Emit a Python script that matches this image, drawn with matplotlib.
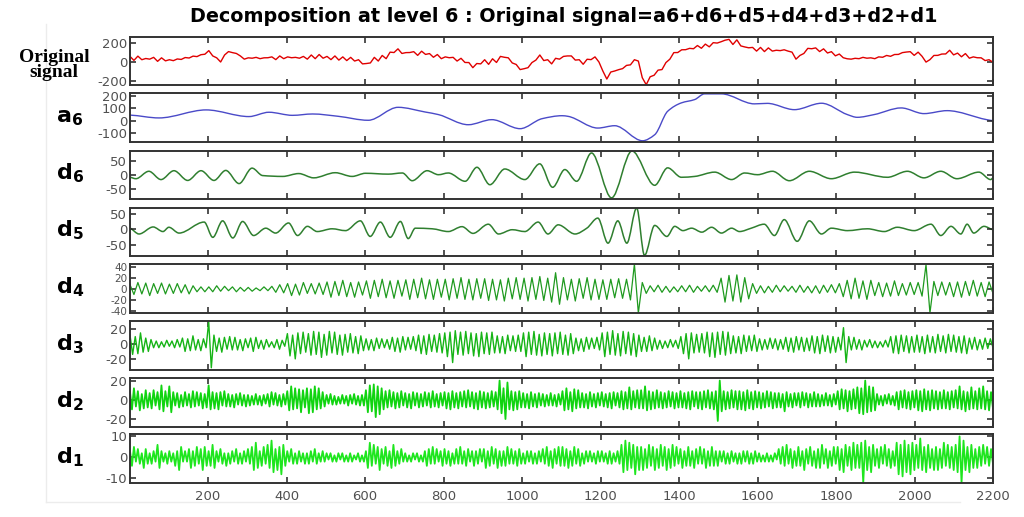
import numpy as np
import matplotlib
matplotlib.use("Agg")
import matplotlib.pyplot as plt
from matplotlib.path import Path
from matplotlib.patches import PathPatch
from matplotlib.lines import Line2D

plt.rcParams['axes.unicode_minus'] = False

# ---------------- data ----------------
title = "Decomposition at level 6 : Original signal=a6+d6+d5+d4+d3+d2+d1"
xticks = [200, 400, 600, 800, 1000, 1200, 1400, 1600, 1800, 2000, 2200]
n_samples = 2200

original = [
    57, 15, 60, 22, 35, 28, 47, 5, 42, 10,
    22, 12, 30, 25, 45, 40, 60, 55, 75, 80,
    118, 62, 42, -2, 72, 108, 97, 88, 62, 28,
    42, 38, 47, 33, 42, 43, 52, 23, 62, 33,
    52, 43, 47, 38, 57, 28, 72, 33, 77, 38,
    57, 23, 62, 18, 52, 13, 47, 8, 22, -22,
    -18, -12, 47, 8, 67, 33, 102, 98, 137, 88,
    97, 98, 107, 68, 112, 78, 87, 48, 77, 33,
    52, 43, 47, 8, 37, -7, -8, -62, -18, -22,
    22, -27, 32, -7, 57, 48, 42, -12, -28, -82,
    -73, -62, -8, 18, 72, 13, 22, -22, 37, 28,
    57, 62, 62, 18, 22, -26, 27, 23, 52, -2,
    -98, -182, -108, -97, -83, -72, -38, -32, 22, 8,
    -168, -242, -158, -142, -88, -82, -8, 28, 97, 98,
    127, 128, 142, 138, 172, 143, 187, 158, 202, 198,
    212, 228, 237, 183, 232, 168, 157, 148, 152, 113,
    152, 108, 147, 113, 122, 118, 127, 113, 102, 28,
    67, 88, 142, 138, 147, 108, 137, 93, 107, 63,
    82, 43, 32, 28, 37, 33, 47, 38, 42, 33,
    52, 48, 67, 58, 77, 78, 97, 103, 107, 68,
    102, 58, -3, 23, 67, 68, 82, 83, 122, 73,
    92, 53, 87, 38, 52, 43, 42, 13, 22, -5,
]

a6_x = [1, 75, 195, 304, 355, 415, 466, 532, 608, 684, 753, 787, 863, 923, 995,
        1051, 1102, 1117, 1193, 1236, 1307, 1338, 1371, 1406, 1440, 1465, 1508,
        1592, 1625, 1694, 1763, 1829, 1854, 1897, 1966, 2024, 2083, 2184, 2200]
a6_y = [45, 22, 87, 33, 68, 43, 54, 35, 3, 108, 70, 49, -33, 8, -65,
        16, 40, 35, -60, -41, -163, -114, 76, 144, 171, 217, 217,
        136, 140, 89, 141, 49, 27, 49, 103, 57, 81, 8, 0]

d6_x = [1, 16, 49, 80, 113, 148, 182, 215, 245,
        279, 312, 339, 390, 431, 469, 524, 567, 601, 659,
        695, 720, 758, 787, 812, 855, 885, 918, 956, 1007,
        1045, 1078, 1109, 1139, 1177, 1228, 1280, 1338, 1371, 1406,
        1440, 1491, 1534, 1567, 1600, 1638, 1681, 1732, 1788, 1847,
        1931, 1982, 2024, 2067, 2108, 2164, 2194, 2200]
d6_y = [-8, -13, 13, -16, 15, -19, 15, -19, 16,
        -30, 24, -2, -5, 5, -10, 8, -5, 6, 3,
        7, -20, 15, 1, 7, -22, 27, -34, 21, -16,
        39, -43, 19, -22, 77, -80, 84, -36, 25, -8,
        -5, 10, -16, 7, 1, 13, -20, 13, -13, 10,
        -8, 13, -10, 13, -13, 10, -16, -10]

d5_x = [1, 24, 60, 85, 100, 126, 190, 212, 237, 263,
        288, 316, 347, 372, 405, 428, 453, 478, 516, 550,
        588, 613, 639, 664, 690, 710, 728, 771, 812, 847,
        875, 914, 940, 975, 1007, 1041, 1066, 1092, 1135, 1165,
        1193, 1219, 1244, 1267, 1292, 1312, 1338, 1369, 1389, 1410,
        1432, 1458, 1483, 1508, 1534, 1554, 1584, 1617, 1643, 1668,
        1701, 1732, 1763, 1788, 1829, 1880, 1923, 1956, 1999, 2042,
        2067, 2093, 2118, 2134, 2151, 2177, 2200]
d5_y = [4, -15, 8, -7, 7, -12, 24, -26, 28, -28,
        26, -20, 4, -12, 21, -20, 10, -7, 2, -4,
        28, -23, 24, -26, 26, -30, 4, 2, -7, 9,
        -13, 17, -15, -1, -7, 24, -15, 15, -15, 4,
        37, -45, 28, -45, 70, -85, 13, -23, 10, -4,
        4, -9, 7, -12, 4, -7, 4, 17, -20, 32,
        -39, 28, -15, 4, -4, 2, -7, 7, -4, 17,
        -20, 10, -15, 17, -12, 10, -1]

d4 = [
    8, -10, 12, -9, 11, -12, 10, -8, 11, -9,
    9, -8, 10, -7, 8, -9, 6, -5, 4, -5,
    4, -5, 6, -4, 5, -3, 4, -5, 3, -4,
    3, -4, 2, -3, 4, -3, 5, -6, 8, -7,
    10, -12, 9, -11, 12, -8, 10, -9, 11, -10,
    13, -15, 14, -12, 16, -14, 12, -15, 13, -11,
    15, -17, 16, -14, 18, -16, 15, -17, 16, -13,
    17, -19, 18, -16, 20, -18, 17, -19, 18, -15,
    18, -20, 19, -17, 21, -19, 18, -20, 19, -17,
    19, -21, 18, -20, 17, -22, 20, -18, 21, -19,
    20, -22, 21, -19, 23, -21, 20, -24, 30, -28,
    21, -20, 18, -22, 19, -17, 21, -20, 18, -19,
    17, -19, 18, -16, 19, -17, 18, -20, 46, -44,
    12, -8, 6, -5, 7, -6, 5, -6, 4, -5,
    6, -5, 7, -6, 5, -4, 6, -5, 7, -6,
    20, -24, 25, -22, 26, -24, 21, -18, 10, -8,
    6, -7, 5, -6, 7, -5, 6, -4, 5, -6,
    7, -6, 5, -7, 6, -8, 7, -6, 8, -7,
    10, -14, 16, -18, 20, -17, 15, -19, 16, -12,
    12, -14, 11, -13, 15, -12, 10, -11, 12, -10,
    12, -13, 45, -44, 14, -12, 13, -11, 12, -14,
    13, -15, 14, -12, 16, -13, 12, -14, 13, -8,
]

d3 = [
    12, -14, 10, -13, 15, -11, 8, -10, 6, -5,
    4, -5, 3, -4, 5, -3, 4, -5, 6, -4,
    8, -10, 7, -9, 11, -8, 6, -9, 7, -5,
    30, -32, 12, -10, 8, -11, 9, -7, 10, -8,
    9, -8, 6, -9, 7, -5, 8, -10, 9, -6,
    5, -7, 6, -4, 3, -5, 6, -7, 5, -3,
    14, -16, 12, -20, 15, -13, 16, -11, 14, -15,
    17, -14, 16, -18, 13, -15, 17, -12, 16, -14,
    12, -15, 13, -11, 14, -12, 10, -13, 11, -9,
    7, -8, 6, -9, 8, -6, 7, -5, 6, -7,
    9, -10, 8, -11, 10, -8, 9, -7, 10, -9,
    12, -13, 11, -14, 13, -10, 12, -11, 14, -12,
    15, -17, 16, -25, 18, -14, 16, -15, 17, -13,
    15, -16, 14, -17, 16, -13, 15, -14, 16, -12,
    11, -12, 10, -13, 12, -9, 11, -10, 12, -10,
    15, -17, 16, -14, 17, -15, 13, -16, 15, -14,
    14, -16, 15, -13, 16, -14, 12, -15, 14, -13,
    8, -9, 7, -10, 9, -7, 8, -6, 9, -8,
    15, -17, 16, -14, 18, -15, 14, -16, 17, -13,
    16, -15, 14, -17, 12, -10, 9, -10, 11, -9,
    8, -7, 5, -6, 4, -5, 6, -4, 5, -6,
    10, -13, 14, -20, 15, -12, 13, -11, 14, -12,
    16, -17, 15, -18, 16, -14, 17, -15, 16, -13,
    11, -12, 10, -13, 12, -10, 11, -9, 12, -10,
    7, -8, 6, -7, 8, -6, 7, -8, 6, -7,
    9, -10, 8, -11, 10, -8, 9, -10, 8, -9,
    11, -12, 10, -13, 12, -10, 11, -12, 10, -11,
    9, -8, 22, -25, 10, -8, 9, -7, 6, -8,
    5, -4, 6, -5, 4, -5, 3, -4, 5, -4,
    10, -12, 11, -13, 12, -10, 11, -12, 10, -11,
    12, -11, 10, -13, 12, -11, 10, -12, 13, -10,
    11, -12, 13, -10, 12, -11, 10, -12, 11, -13,
    8, -7, 9, -8, 6, -7, 8, -6, 7, -5,
]

d2 = [
    8, -10, 12, -7, 9, -11, 6, -9, 10, -8,
    7, -9, 10, -6, 8, -10, 15, -12, 9, -7,
    14, -13, 8, -6, 7, -8, 5, -7, 8, -6,
    6, -8, 9, -7, 8, -6, 7, -9, 6, -8,
    15, -10, 8, -9, 7, -10, 8, -6, 9, -7,
    6, -7, 5, -8, 6, -5, 7, -6, 5, -7,
    5, -6, 4, -5, 6, -5, 4, -6, 5, -4,
    6, -7, 8, -5, 7, -6, 5, -7, 6, -5,
    9, -11, 14, -10, 12, -9, 11, -13, 10, -8,
    12, -14, 11, -13, 14, -10, 12, -9, 8, -7,
    5, -4, 6, -5, 4, -5, 3, -4, 5, -4,
    4, -6, 5, -4, 6, -5, 4, -6, 5, -6,
    10, -13, 15, -12, 16, -18, 14, -15, 12, -10,
    9, -8, 10, -7, 8, -9, 7, -8, 9, -6,
    7, -8, 6, -9, 8, -6, 7, -8, 6, -7,
    8, -6, 7, -8, 9, -7, 6, -8, 7, -6,
    8, -9, 7, -10, 9, -8, 7, -9, 8, -7,
    9, -8, 10, -7, 8, -9, 7, -10, 9, -8,
    8, -9, 7, -8, 9, -7, 8, -10, 20, -14,
    12, -20, 18, -10, 9, -11, 8, -10, 9, -8,
    7, -8, 6, -9, 8, -7, 6, -8, 7, -6,
    6, -7, 5, -6, 7, -6, 5, -7, 6, -5,
    9, -11, 12, -10, 8, -12, 11, -9, 10, -8,
    7, -8, 6, -9, 8, -7, 6, -8, 7, -6,
    8, -7, 6, -8, 7, -9, 8, -6, 7, -8,
    9, -10, 8, -9, 13, -10, 9, -8, 10, -9,
    10, -9, 14, -11, 9, -10, 8, -9, 10, -8,
    8, -9, 7, -8, 9, -7, 8, -9, 7, -8,
    9, -8, 7, -9, 8, -10, 9, -7, 8, -9,
    8, -10, 9, -8, 10, -9, 8, -10, 9, -22,
    20, -12, 9, -10, 8, -9, 10, -8, 9, -10,
    9, -10, 8, -11, 10, -9, 8, -10, 9, -8,
    8, -9, 7, -8, 9, -7, 8, -9, 7, -8,
    7, -8, 6, -12, 8, -7, 6, -8, 7, -6,
    7, -8, 8, -6, 7, -8, 6, -7, 8, -7,
    6, -7, 5, -6, 7, -6, 5, -7, 6, -5,
    9, -10, 11, -9, 10, -12, 9, -10, 11, -9,
    13, -14, 12, -15, 20, -13, 14, -12, 13, -11,
    6, -5, 4, -6, 5, -4, 6, -5, 4, -6,
    8, -10, 9, -8, 10, -9, 8, -10, 9, -8,
    10, -11, 9, -12, 11, -10, 9, -11, 10, -9,
    9, -10, 8, -9, 10, -9, 8, -10, 9, -8,
    10, -9, 14, -10, 9, -12, 8, -10, 13, -9,
    9, -10, 12, -9, 14, -10, 9, -11, 8, -9,
]

d1 = [
    3, -4, 5, -2, 4, -3, 2, -5, 4, -3,
    2, -3, 3, -2, 6, -5, 3, -2, 2, -3,
    3, -2, 2, -4, 3, -6, 5, -2, 3, -2,
    4, -5, 3, -4, 5, -3, 4, -6, 5, -4,
    3, -4, 6, -5, 3, -2, 4, -3, 2, -4,
    2, -3, 3, -2, 4, -3, 2, -3, 3, -2,
    4, -3, 5, -6, 7, -5, 3, -4, 5, -3,
    6, -5, 8, -7, 4, -6, 5, -8, 6, -4,
    3, -2, 4, -3, 2, -3, 3, -2, 2, -3,
    2, -3, 3, -2, 4, -3, 2, -2, 3, -2,
    2, -1, 2, -2, 1, -2, 2, -1, 2, -2,
    1, -2, 2, -2, 1, -1, 2, -2, 1, -2,
    3, -5, 7, -4, 6, -3, 5, -6, 4, -3,
    5, -4, 3, -5, 6, -4, 3, -3, 4, -2,
    2, -2, 1, -2, 2, -1, 2, -2, 1, -2,
    3, -4, 4, -3, 5, -3, 4, -2, 3, -4,
    4, -3, 3, -4, 2, -3, 4, -3, 5, -3,
    3, -4, 4, -2, 3, -4, 3, -3, 4, -2,
    4, -5, 3, -4, 5, -3, 4, -5, 3, -4,
    3, -4, 5, -3, 4, -3, 3, -4, 4, -3,
    2, -3, 3, -2, 3, -3, 2, -3, 3, -2,
    4, -3, 5, -4, 3, -5, 4, -3, 5, -4,
    5, -4, 4, -5, 3, -4, 5, -3, 4, -4,
    2, -3, 3, -2, 3, -2, 2, -3, 3, -2,
    3, -2, 2, -3, 3, -3, 2, -2, 3, -3,
    6, -7, 8, -6, 7, -5, 6, -8, 5, -6,
    5, -6, 4, -5, 6, -4, 5, -6, 4, -5,
    6, -4, 5, -6, 4, -5, 6, -4, 5, -3,
    4, -5, 3, -4, 5, -4, 3, -5, 4, -3,
    5, -3, 4, -5, 3, -4, 5, -4, 3, -4,
    3, -2, 3, -3, 2, -3, 3, -2, 2, -3,
    2, -3, 3, -2, 3, -3, 2, -3, 3, -2,
    2, -2, 1, -2, 2, -2, 1, -2, 2, -1,
    4, -3, 5, -4, 6, -3, 4, -5, 3, -4,
    5, -4, 3, -6, 4, -3, 5, -4, 3, -5,
    4, -5, 6, -3, 4, -5, 3, -4, 5, -3,
    5, -6, 4, -7, 6, -4, 5, -6, 7, -5,
    6, -5, 7, -12, 8, -6, 5, -7, 6, -4,
    4, -5, 5, -3, 6, -4, 4, -5, 3, -4,
    7, -8, 6, -9, 8, -7, 6, -8, 7, -6,
    6, -5, 9, -6, 5, -7, 6, -5, 4, -6,
    5, -6, 4, -5, 7, -4, 6, -5, 5, -6,
    6, -7, 10, -12, 8, -6, 5, -7, 6, -5,
    4, -5, 5, -4, 6, -3, 5, -4, 4, -3,
]

# ---------------- figure ----------------
W, H = 1024, 517
fig = plt.figure(figsize=(W / 100, H / 100), dpi=100)
fig.patch.set_facecolor("white")

# faint scan frame (left and bottom edges only)
fig.add_artist(Line2D([46 / W, 46 / W], [1 - 502 / H, 1 - 24 / H],
                      transform=fig.transFigure, color="#ececec", lw=1.0))
fig.add_artist(Line2D([46 / W, 960 / W], [1 - 502 / H, 1 - 502 / H],
                      transform=fig.transFigure, color="#ececec", lw=1.0))


def seq_x(values):
    return np.linspace(1, n_samples, len(values))


def smooth_path(x, y):
    """Smooth (monotone cubic Bezier) rendering through the read points."""
    x = np.asarray(x, float)
    y = np.asarray(y, float)
    h = np.diff(x)
    d = np.diff(y) / h
    m = np.zeros_like(y)
    for k in range(1, len(y) - 1):
        if d[k - 1] * d[k] > 0:
            m[k] = 2.0 / (1.0 / d[k - 1] + 1.0 / d[k])
    m[0] = d[0] * 0.5
    m[-1] = d[-1] * 0.5
    verts = [(x[0], y[0])]
    codes = [Path.MOVETO]
    for k in range(len(x) - 1):
        verts += [(x[k] + h[k] / 3, y[k] + m[k] * h[k] / 3),
                  (x[k + 1] - h[k] / 3, y[k + 1] - m[k + 1] * h[k] / 3),
                  (x[k + 1], y[k + 1])]
        codes += [Path.CURVE4] * 3
    return Path(verts, codes)


series = [
    dict(x=seq_x(original), y=original, color="#e00000", lw=1.0, smooth=False,
         ylim=(-245, 262), yticks=[-200, 0, 200], label=None, fs=9.5),
    dict(x=a6_x, y=a6_y, color="#4a4ac8", lw=1.0, smooth=True,
         ylim=(-173, 224), yticks=[-100, 0, 100, 200], label=("a", "6"), fs=9.5),
    dict(x=d6_x, y=d6_y, color="#2f7f2f", lw=1.1, smooth=True,
         ylim=(-84, 85), yticks=[-50, 0, 50], label=("d", "6"), fs=9.5),
    dict(x=d5_x, y=d5_y, color="#2f7f2f", lw=1.1, smooth=True,
         ylim=(-87, 71), yticks=[-50, 0, 50], label=("d", "5"), fs=9.5),
    dict(x=seq_x(d4), y=d4, color="#1f9a1f", lw=0.9, smooth=False,
         ylim=(-44, 46), yticks=[-40, -20, 0, 20, 40], label=("d", "4"), fs=7.5),
    dict(x=seq_x(d3), y=d3, color="#16b416", lw=1.0, smooth=False,
         ylim=(-35, 31), yticks=[-20, 0, 20], label=("d", "3"), fs=9.5),
    dict(x=seq_x(d2), y=d2, color="#10d410", lw=1.3, smooth=False,
         ylim=(-28, 23), yticks=[-20, 0, 20], label=("d", "2"), fs=9.5),
    dict(x=seq_x(d1), y=d1, color="#1ee61e", lw=1.3, smooth=False,
         ylim=(-12, 11), yticks=[-10, 0, 10], label=("d", "1"), fs=9.5),
]

panels = [(37, 85), (93, 142), (150.7, 199), (207.7, 256),
          (264, 313), (321, 370), (377.7, 426.7), (434.3, 482.7)]
left_px, right_px = 130, 993

for i, (s, (top, bot)) in enumerate(zip(series, panels)):
    ax = fig.add_axes([left_px / W, 1 - bot / H, (right_px - left_px) / W, (bot - top) / H])
    if s["smooth"]:
        ax.add_patch(PathPatch(smooth_path(s["x"], s["y"]), facecolor="none",
                               edgecolor=s["color"], lw=s["lw"]))
    else:
        ax.plot(s["x"], s["y"], color=s["color"], lw=s["lw"])
    ax.set_xlim(1, n_samples)
    ax.set_ylim(*s["ylim"])
    ax.set_yticks(s["yticks"])
    ax.set_xticks(xticks)
    ax.tick_params(direction="in", top=True, right=True, length=4, width=1.1,
                   color="#222222", labelsize=9.5, labelcolor="#505050", pad=2)
    ax.tick_params(axis="y", labelsize=s["fs"])
    if i < len(series) - 1:
        ax.tick_params(labelbottom=False)
    else:
        ax.set_xticklabels([str(t) for t in xticks])
        ax.tick_params(axis="x", pad=5)
    for sp in ax.spines.values():
        sp.set_linewidth(1.4)
        sp.set_color("#333333")
    cy = (top + bot) / 2
    if s["label"] is None:
        fig.text(54 / W, 1 - 65 / H, "Original\nsignal", ha="center", va="center",
                 family="Liberation Serif", weight="bold", fontsize=14,
                 linespacing=0.8)
    else:
        let, sub = s["label"]
        fig.text(56 / W, 1 - (cy + 5) / H,
                 r"$\mathbf{%s}_{\mathbf{%s}}$" % (let, sub),
                 ha="left", va="baseline", fontsize=16)

fig.text(564 / W, 1 - 16 / H, title, ha="center", va="center",
         weight="bold", fontsize=13.8)

fig.savefig("out.png", dpi=100, facecolor="white")
